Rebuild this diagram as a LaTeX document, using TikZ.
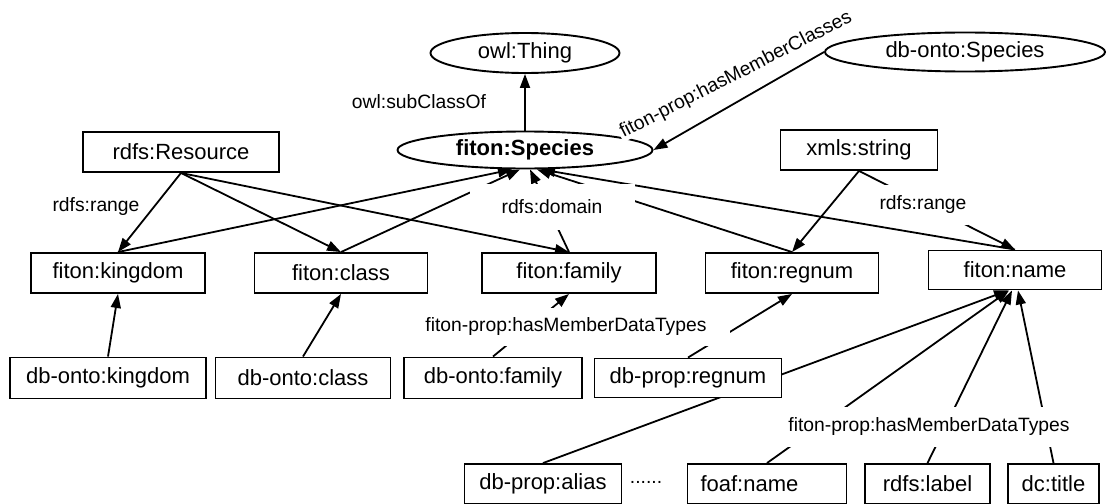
\documentclass[tikz,border=0pt]{standalone}
\usepackage{fontspec}
\setmainfont{Liberation Sans}
\usetikzlibrary{arrows.meta,shapes.geometric,backgrounds}
\begin{document}
\begin{tikzpicture}[x=1pt,y=-1pt,
  box/.style={draw, line width=1.9pt, fill=white, rectangle, minimum height=40pt, inner sep=0pt, font=\fontsize{22}{24}\selectfont},
  oval/.style={draw, line width=1.9pt, fill=white, ellipse, inner sep=0pt, font=\fontsize{22}{24}\selectfont},
  lab/.style={fill=white, inner xsep=2pt, inner ysep=0pt, font=\fontsize{19.3}{21}\selectfont},
  arr/.style={line width=1.8pt, -{Triangle[length=14pt,width=10pt]}}
]
\useasboundingbox (0,0) rectangle (1110,503);

% main nodes
\node[oval, minimum width=189pt, minimum height=40pt] (thing) at (525,53) {owl:Thing};
\node[oval, minimum width=280pt, minimum height=39pt] (dbsp) at (965,52) {db-onto:Species};
\node[oval, minimum width=255pt, minimum height=37pt, font=\bfseries\fontsize{22}{24}\selectfont] (sp) at (525,150) {fiton:Species};
\node[box, minimum width=196pt] (res) at (181,152) {rdfs:Resource};
\node[box, minimum width=157pt] (xs) at (859,150) {xmls:string};
\node[box, minimum width=174pt] (fk) at (118,273) {fiton:kingdom};
\node[box, minimum width=173pt] (fc) at (341,273) {fiton:class};
\node[box, minimum width=174pt] (ff) at (569,273) {fiton:family};
\node[box, minimum width=173pt] (fr) at (792,273) {fiton:regnum};
\node[box, minimum width=173pt, minimum height=39pt] (fn) at (1015,270) {fiton:name};
\node[box, minimum width=196pt, minimum height=41pt] (dk) at (108,378) {db-onto:kingdom};
\node[box, minimum width=175pt, minimum height=41pt] (dc) at (303,378) {db-onto:class};
\node[box, minimum width=178pt, minimum height=41pt] (df) at (493,378) {db-onto:family};
\node[box, minimum width=187pt, minimum height=39pt] (dr) at (688,378) {db-prop:regnum};
\node[box, minimum width=157pt] (da) at (543,484) {db-prop:alias};
\node[box, minimum width=159pt, align=left, text width=133pt] (foaf) at (767,484) {foaf:name};
\node[box, minimum width=125pt] (rl) at (927.5,484) {rdfs:label};
\node[box, minimum width=91pt] (dct) at (1053.5,484) {dc:title};
\node[lab, anchor=base] (dots) at (646,483) {......};

% labels
\node[lab] (lsub) at (419,102) {owl:subClassOf};
\node[lab, rotate=27] (lmc) at (736,75) {fiton-prop:hasMemberClasses};
\node[lab] (lr1) at (96,207) {rdfs:range};
\node[lab, minimum width=165pt, minimum height=46pt] (ldom) at (552,207) {rdfs:domain};
\node[lab, minimum height=40pt] (lr2) at (923,205) {rdfs:range};
\node[lab, minimum width=328pt, minimum height=38pt] (ldt1) at (566,327) {fiton-prop:hasMemberDataTypes};
\node[lab, inner xsep=4pt, minimum height=40pt] (ldt2) at (929,427) {fiton-prop:hasMemberDataTypes};

\begin{scope}[on background layer]
\fill[white] (0,0) rectangle (1110,503);
\draw[arr] (sp.north) -- (thing.south);
\draw[arr] (dbsp.west) -- (sp.east);
\draw[arr] (res.south) -- (fk.north);
\draw[arr] (res.south) -- (fc.north);
\draw[arr] (res.south) -- (ff.north);
\draw[arr] (fk.north) -- ([xshift=-13pt]sp.south);
\draw[arr] (fc.north) -- ([xshift=-5pt]sp.south);
\draw[arr] (ff.north) -- ([xshift=5pt]sp.south);
\draw[arr] (fr.north) -- ([xshift=12pt]sp.south);
\draw[arr] (fn.north) -- ([xshift=16pt]sp.south);
\draw[arr] (xs.south) -- (fr.north);
\draw[arr] (xs.south) -- (fn.north);
\draw[arr] (dk.north) -- (fk.south);
\draw[arr] (dc.north) -- (fc.south);
\draw[arr] (df.north) -- (ff.south);
\draw[arr] (dr.north) -- (fr.south);
\draw[arr] (da.north) -- ([xshift=-7pt]fn.south);
\draw[arr] (foaf.north) -- ([xshift=-6pt]fn.south);
\draw[arr] (rl.north) -- ([xshift=-3pt]fn.south);
\draw[arr] (dct.north) -- ([xshift=3pt]fn.south);
\end{scope}
\end{tikzpicture}
\end{document}
